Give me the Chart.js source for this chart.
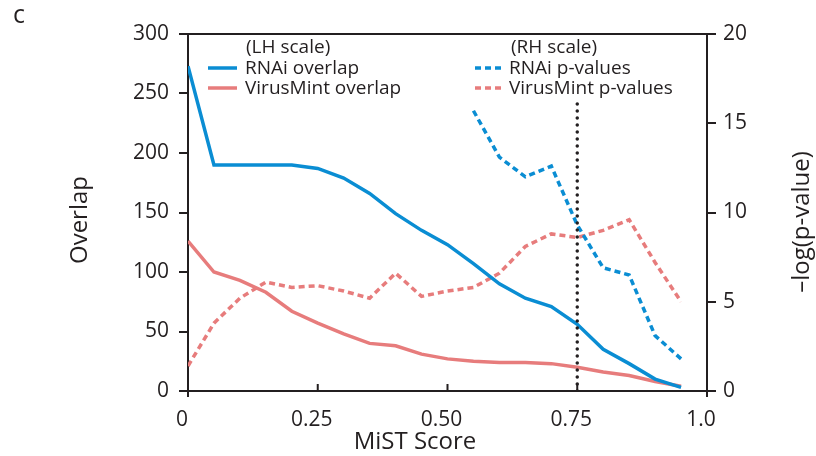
<!DOCTYPE html>
<html>
<head>
<meta charset="utf-8">
<script src="https://cdn.jsdelivr.net/npm/chart.js@4/dist/chart.umd.min.js"></script>
<style>
  html, body { margin: 0; padding: 0; background: #fff; }
  #wrap { width: 816px; height: 456px; position: relative; }
</style>
</head>
<body>
<div id="wrap"><canvas id="chart" width="816" height="456"></canvas></div>
<script>
// MiST score thresholds (x)
const scores = [0, 0.05, 0.10, 0.15, 0.20, 0.25, 0.30, 0.35, 0.40, 0.45, 0.50,
                0.55, 0.60, 0.65, 0.70, 0.75, 0.80, 0.85, 0.90, 0.95];

// left scale - overlap counts
const rnaiOverlap = [273, 190, 190, 190, 190, 187, 179, 166, 149, 135, 123,
                     107, 90, 78, 71, 56, 35, 23, 10, 3];
const virusMintOverlap = [126, 100, 93, 83, 67, 57, 48, 40, 38, 31, 27,
                          25, 24, 24, 23, 20, 16, 13, 8, 4];

// right scale - -log(p-value)
const rnaiPvalues = [null, null, null, null, null, null, null, null, null, null, null,
                     15.7, 13.1, 12.0, 12.6, 9.3, 6.9, 6.5, 3.1, 1.8];
const virusMintPvalues = [1.4, 3.8, 5.2, 6.1, 5.8, 5.9, 5.6, 5.2, 6.6, 5.3, 5.6,
                          5.8, 6.6, 8.1, 8.8, 8.6, 9.0, 9.6, 7.2, 5.0];

// cutoff marker
const cutoffX = [0.75, 0.75];
const cutoffY = [0, 16.1];

const xTicks = [0, 0.25, 0.5, 0.75, 1.0];
const xTickLabels = ['0', '0.25', '0.50', '0.75', '1.0'];

const BLUE = '#0a8dd3';
const RED = '#e77c7c';
const INK = '#231f20';
const FONT = '"Open Sans", "Noto Sans", sans-serif';

function pts(xs, ys) {
    const out = [];
    xs.forEach((x, i) => { if (ys[i] !== null) out.push({ x: x, y: ys[i] }); });
    return out;
}

// extra drawing: top frame, inward x ticks, legend, titles, panel letter
const decorations = {
    id: 'decorations',
    afterDraw(chart) {
        const ctx = chart.ctx;
        const a = chart.chartArea;
        const xs = chart.scales.x;
        ctx.save();
        ctx.strokeStyle = INK;
        ctx.lineWidth = 2;
        ctx.beginPath();
        ctx.moveTo(a.left, a.top);
        ctx.lineTo(a.right, a.top);
        // axis stubs below the x axis
        ctx.moveTo(a.left, a.bottom);
        ctx.lineTo(a.left, a.bottom + 6);
        ctx.moveTo(a.right, a.bottom);
        ctx.lineTo(a.right, a.bottom + 6);
        xTicks.forEach(v => {
            const px = xs.getPixelForValue(v);
            ctx.moveTo(px, a.bottom);
            ctx.lineTo(px, a.bottom - 7);
        });
        ctx.stroke();

        ctx.fillStyle = INK;
        ctx.textBaseline = 'middle';
        ctx.textAlign = 'left';
        ctx.font = '19px ' + FONT;
        ctx.fillText('(LH scale)', 246, 48);
        ctx.fillText('RNAi overlap', 245, 69);
        ctx.fillText('VirusMint overlap', 245, 89);
        ctx.fillText('(RH scale)', 511, 48);
        ctx.fillText('RNAi p-values', 509, 69);
        ctx.fillText('VirusMint p-values', 509, 89);

        ctx.lineWidth = 3.5;
        ctx.lineCap = 'butt';
        ctx.strokeStyle = BLUE;
        ctx.beginPath(); ctx.moveTo(208, 68); ctx.lineTo(237, 68); ctx.stroke();
        ctx.strokeStyle = RED;
        ctx.beginPath(); ctx.moveTo(208, 88); ctx.lineTo(237, 88); ctx.stroke();
        ctx.setLineDash([6, 4]);
        ctx.strokeStyle = BLUE;
        ctx.beginPath(); ctx.moveTo(475, 68); ctx.lineTo(502, 68); ctx.stroke();
        ctx.strokeStyle = RED;
        ctx.beginPath(); ctx.moveTo(475, 88); ctx.lineTo(502, 88); ctx.stroke();
        ctx.setLineDash([]);

        ctx.font = '24px ' + FONT;
        ctx.textAlign = 'center';
        ctx.fillText('MiST Score', 415, 442);
        ctx.save();
        ctx.translate(80, 220);
        ctx.rotate(-Math.PI / 2);
        ctx.fillText('Overlap', 0, 0);
        ctx.restore();
        ctx.save();
        ctx.translate(802, 222);
        ctx.rotate(-Math.PI / 2);
        ctx.fillText('\u2013log(p-value)', 0, 0);
        ctx.restore();

        ctx.font = '25px ' + FONT;
        ctx.textAlign = 'left';
        ctx.fillText('c', 13, 16);
        ctx.restore();
    }
};

new Chart(document.getElementById('chart'), {
    type: 'line',
    data: {
        datasets: [
            { label: 'cutoff', data: pts(cutoffX, cutoffY), yAxisID: 'yR',
              borderColor: INK, borderWidth: 3.5, borderDash: [0, 7], borderCapStyle: 'round' },
            { label: 'RNAi overlap', data: pts(scores, rnaiOverlap), yAxisID: 'yL',
              borderColor: BLUE, borderWidth: 3.5 },
            { label: 'VirusMint overlap', data: pts(scores, virusMintOverlap), yAxisID: 'yL',
              borderColor: RED, borderWidth: 3.5 },
            { label: 'RNAi p-values', data: pts(scores, rnaiPvalues), yAxisID: 'yR',
              borderColor: BLUE, borderWidth: 3.5, borderDash: [6, 4] },
            { label: 'VirusMint p-values', data: pts(scores, virusMintPvalues), yAxisID: 'yR',
              borderColor: RED, borderWidth: 3.5, borderDash: [6, 4] }
        ]
    },
    options: {
        responsive: false,
        animation: false,
        layout: { padding: { top: 34, left: 0, right: 0, bottom: 0 } },
        elements: { point: { radius: 0 }, line: { tension: 0, fill: false } },
        plugins: { legend: { display: false }, tooltip: { enabled: false } },
        scales: {
            x: {
                type: 'linear', min: 0, max: 1,
                afterBuildTicks: s => { s.ticks = xTicks.map(v => ({ value: v })); },
                afterFit: s => { s.height = 65; },
                grid: { display: false },
                border: { display: true, color: INK, width: 2 },
                ticks: {
                    color: INK, font: { family: FONT, size: 21 }, padding: 8,
                    maxRotation: 0, autoSkip: false, labelOffset: -6,
                    callback: v => xTickLabels[xTicks.indexOf(v)]
                }
            },
            yL: {
                position: 'left', min: 0, max: 300,
                afterFit: s => { s.width = 188; },
                grid: { drawOnChartArea: false, tickLength: 9, color: INK, lineWidth: 2 },
                border: { display: true, color: INK, width: 2 },
                ticks: { stepSize: 50, color: INK, font: { family: FONT, size: 21 }, padding: 10 }
            },
            yR: {
                position: 'right', min: 0, max: 20,
                afterFit: s => { s.width = 109; },
                grid: { drawOnChartArea: false, tickLength: 9, color: INK, lineWidth: 2 },
                border: { display: true, color: INK, width: 2 },
                ticks: { stepSize: 5, color: INK, font: { family: FONT, size: 21 }, padding: 7 }
            }
        }
    },
    plugins: [decorations]
});
</script>
</body>
</html>
